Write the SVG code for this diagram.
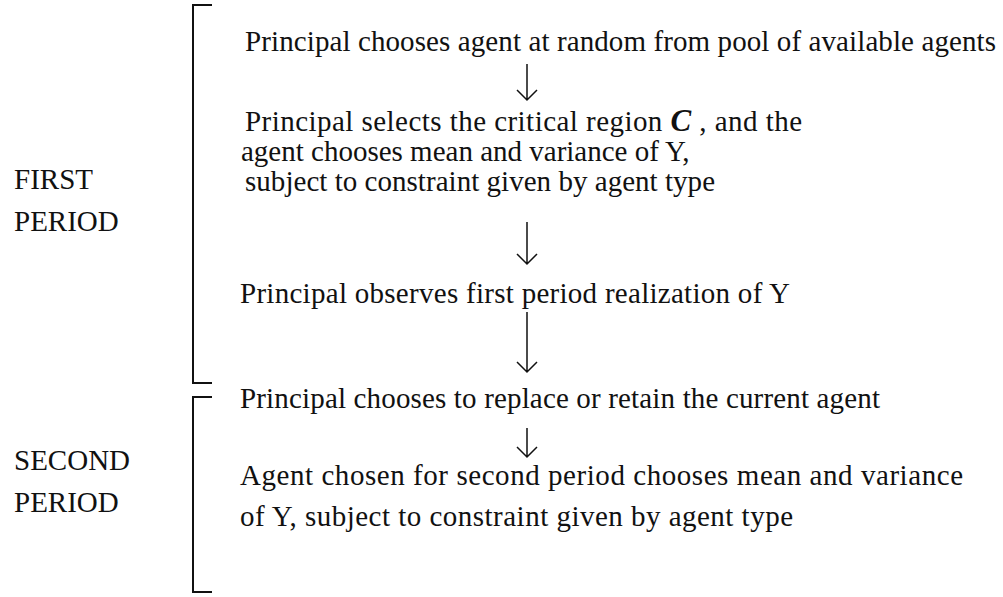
<svg xmlns="http://www.w3.org/2000/svg" width="1003" height="597" viewBox="0 0 1003 597">
<style>
text{font-family:"Liberation Serif","Times New Roman",serif;font-size:29px;fill:#111}
.br{fill:none;stroke:#111;stroke-width:2}
.ar{fill:none;stroke:#111;stroke-width:1.5}
</style>
<rect width="1003" height="597" fill="#fff"/>
<g id="brackets">
<path class="br" d="M212,5 H193 V383 H212"/>
<path class="br" d="M212,397 H193 V592 H212"/>
</g>
<g id="period-labels">
<text x="14" y="189">FIRST</text>
<text x="14" y="231">PERIOD</text>
<text x="14" y="470">SECOND</text>
<text x="14" y="512">PERIOD</text>
</g>
<g id="node1"><text x="245" y="51" textLength="751">Principal chooses agent at random from pool of available agents</text></g>
<g id="node2">
<text x="245" y="131" textLength="557">Principal selects the critical region  <tspan font-weight="bold" font-style="italic" font-size="31">C</tspan> , and the</text>
<text x="241" y="161">agent chooses mean and variance of Y,</text>
<text x="245" y="191" textLength="470">subject to constraint  given by agent type</text>
</g>
<g id="node3"><text x="240" y="303" textLength="550">Principal observes first period realization of Y</text></g>
<g id="node4"><text x="240" y="408" textLength="640">Principal chooses to replace or retain the current agent</text></g>
<g id="node5">
<text x="240" y="485" textLength="723">Agent chosen for second period chooses mean and variance</text>
<text x="240" y="526" textLength="553">of Y, subject to constraint given by agent type</text>
</g>
<g id="connectors">
<path class="ar" d="M527,64 V100 M517,90 L527,100 L537,90"/>
<path class="ar" d="M527,222 V264 M517,254 L527,264 L537,254"/>
<path class="ar" d="M527,312 V372 M517,362 L527,372 L537,362"/>
<path class="ar" d="M527,428 V457 M517,447 L527,457 L537,447"/>
</g>
</svg>
